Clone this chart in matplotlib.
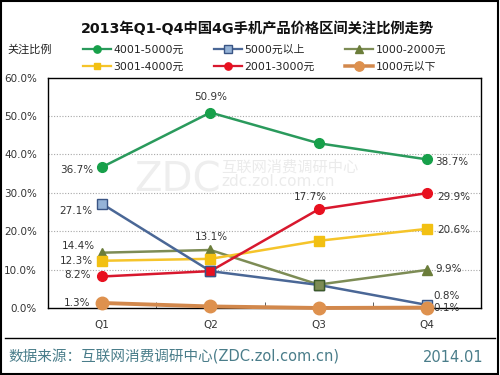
import matplotlib
matplotlib.use("Agg")
import matplotlib.pyplot as plt
from matplotlib.lines import Line2D
from matplotlib.patches import Rectangle

plt.rcParams['font.family'] = ['DejaVu Sans', 'Noto Sans CJK SC']

quarters = ["Q1", "Q2", "Q3", "Q4"]
s_4001_5000 = [36.7, 50.9, 42.9, 38.7]
s_5000_up = [27.1, 9.6, 6.0, 0.8]
s_1000_2000 = [14.4, 15.1, 6.1, 9.9]
s_3001_4000 = [12.3, 12.8, 17.5, 20.6]
s_2001_3000 = [8.2, 9.6, 25.7, 29.9]
s_1000_down = [1.3, 0.4, 0.0, 0.1]
yticks = [0, 10, 20, 30, 40, 50, 60]
ytick_labels = ["0.0%", "10.0%", "20.0%", "30.0%", "40.0%", "50.0%", "60.0%"]

names = ["4001-5000元", "5000元以上", "1000-2000元", "3001-4000元", "2001-3000元", "1000元以下"]

fig = plt.figure(figsize=(5, 3.75), dpi=100)
ax = fig.add_axes([0.096, 0.1787, 0.866, 0.6144])
x = list(range(len(quarters)))

styles = {
    "4001-5000元": dict(color="#2a9a5c", marker="o", ms=7, mfc="#17a04a", mec="#17a04a", lw=1.8),
    "5000元以上": dict(color="#4a6796", marker="s", ms=7, mfc="#95b3d7", mec="#3a5585", lw=1.8),
    "1000-2000元": dict(color="#7d8c55", marker="^", ms=7, mfc="#6b7d3a", mec="#6b7d3a", lw=1.8),
    "3001-4000元": dict(color="#f5c42a", marker="s", ms=6.5, mfc="#f2c012", mec="#f2c012", lw=1.8),
    "2001-3000元": dict(color="#d8182e", marker="o", ms=7, mfc="#e8101f", mec="#e8101f", lw=1.8),
    "1000元以下": dict(color="#d2884c", marker="o", ms=9, mfc="#de914e", mec="#de914e", lw=2.8),
}
series = {
    "4001-5000元": s_4001_5000,
    "5000元以上": s_5000_up,
    "1000-2000元": s_1000_2000,
    "3001-4000元": s_3001_4000,
    "2001-3000元": s_2001_3000,
    "1000元以下": s_1000_down,
}

# watermark
ax.text(0.2, 0.555, "ZDC", transform=ax.transAxes, fontsize=29, color="#eeeeee",
        ha="left", va="center", zorder=0)
ax.text(0.4, 0.61, "互联网消费调研中心", transform=ax.transAxes, fontsize=11, color="#ebebeb",
        ha="left", va="center", zorder=0)
ax.text(0.4, 0.55, "zdc.zol.com.cn", transform=ax.transAxes, fontsize=11, color="#ebebeb",
        ha="left", va="center", zorder=0)

handles = {}
order = ["1000-2000元", "3001-4000元", "5000元以上", "2001-3000元", "4001-5000元", "1000元以下"]
for name in order:
    st = styles[name]
    h, = ax.plot(x, series[name], color=st["color"], lw=st["lw"], marker=st["marker"],
                 ms=st["ms"], mfc=st["mfc"], mec=st["mec"], mew=1, zorder=3, clip_on=False)
    handles[name] = h

# overlapping markers seen in the reference
ax.plot([x[1]], [s_2001_3000[1]], marker="s", ms=7, mfc="#e8101f", mec="#3a5585", mew=1,
        ls="none", zorder=4)
ax.plot([x[2]], [s_1000_2000[2]], marker="s", ms=7, mfc="#7d8c55", mec="#3d5a2a", mew=1,
        ls="none", zorder=4)

# data labels: (series, index, text, dx_px, dy_px, ha)
labels = [
    ("4001-5000元", 0, "36.7%", -9, -3, "right"),
    ("4001-5000元", 1, "50.9%", 0, 16, "center"),
    ("4001-5000元", 3, "38.7%", 8, -3, "left"),
    ("5000元以上", 0, "27.1%", -10, -7, "right"),
    ("1000-2000元", 0, "14.4%", -7, 7, "right"),
    ("3001-4000元", 0, "12.3%", -9, 0, "right"),
    ("2001-3000元", 0, "8.2%", -11, 1.5, "right"),
    ("1000元以下", 0, "1.3%", -12, 0, "right"),
    ("1000-2000元", 1, "13.1%", 1, 13, "center"),
    ("2001-3000元", 2, "17.7%", -8, 12, "center"),
    ("2001-3000元", 3, "29.9%", 10, -4, "left"),
    ("3001-4000元", 3, "20.6%", 10, -1, "left"),
    ("1000-2000元", 3, "9.9%", 9, 1, "left"),
    ("5000元以上", 3, "0.8%", 7, 9, "left"),
    ("1000元以下", 3, "0.1%", 7, 0, "left"),
]
for name, i, txt, dx, dy, ha in labels:
    ax.annotate(txt, (x[i], series[name][i]), xytext=(dx * 0.72, dy * 0.72),
                textcoords="offset points", ha=ha, va="center", fontsize=7.5,
                color="#333333", zorder=5)

ax.set_xlim(-0.5, 3.5)
ax.set_ylim(0, 60)
ax.set_yticks(yticks)
ax.set_yticklabels(ytick_labels)
ax.set_xticks(x)
ax.set_xticklabels(quarters)
ax.set_xticks([0.5, 1.5, 2.5], minor=True)
ax.tick_params(axis="x", which="major", length=0, pad=9, labelsize=7.5, labelcolor="#333333")
ax.tick_params(axis="x", which="minor", length=4, direction="in", color="#444444")
ax.tick_params(axis="y", length=0, pad=8, labelsize=7.5, labelcolor="#333333")
for yv in yticks[1:-1]:
    ax.axhline(yv, color="#a8a8a8", lw=0.8, ls=(0, (1, 1.5)), zorder=1)
for sp in ax.spines.values():
    sp.set_color("#000000")
    sp.set_linewidth(1)

# legends (three columns)
col_x = [0.166, 0.428, 0.69]
cols = [["4001-5000元", "3001-4000元"], ["5000元以上", "2001-3000元"], ["1000-2000元", "1000元以下"]]
for cx, col in zip(col_x, cols):
    hs = []
    for n in col:
        st = styles[n]
        hs.append(Line2D([], [], color=st["color"], lw=st["lw"] * 0.9, marker=st["marker"],
                         ms=st["ms"] * 0.75, mfc=st["mfc"], mec=st["mec"]))
    lg = fig.legend(hs, col, loc="upper left", bbox_to_anchor=(cx, 1 - 45 / 375),
                    frameon=False, fontsize=7.8, handlelength=2.6, handletextpad=0.2,
                    labelspacing=0.62, borderpad=0, borderaxespad=0)
    for t in lg.get_texts():
        t.set_color("#222222")

fig.text(0.514, 1 - 29 / 375, "2013年Q1-Q4中国4G手机产品价格区间关注比例走势",
         ha="center", va="center", fontsize=10.3, fontweight="bold", color="#111111")
fig.text(0.014, 1 - 50 / 375, "关注比例", ha="left", va="center", fontsize=8, color="#222222")

fig.add_artist(Line2D([0.01, 0.99], [1 - 338 / 375] * 2, color="#000000", lw=1))
fig.text(0.016, 1 - 357 / 375, "数据来源：互联网消费调研中心(ZDC.zol.com.cn)", ha="left",
         va="center", fontsize=10.5, color="#4a7d8a")
fig.text(0.966, 1 - 357 / 375, "2014.01", ha="right", va="center", fontsize=10.5,
         color="#4a7d8a")
fig.add_artist(Rectangle((0.002, 0.003), 0.994, 0.994, transform=fig.transFigure,
                         fill=False, edgecolor="#000000", lw=1.5))

fig.savefig("out.png", dpi=100)
